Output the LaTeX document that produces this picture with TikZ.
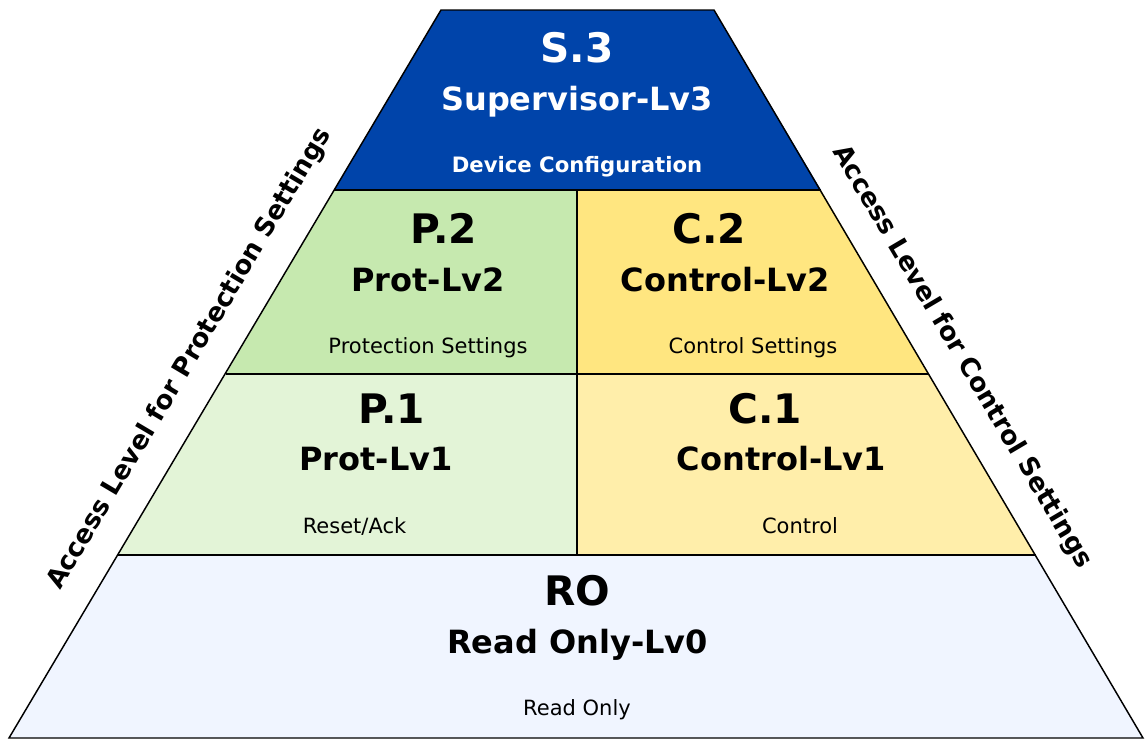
\documentclass[tikz,border=0pt]{standalone}
\usepackage{fontspec}
\setmainfont{DejaVu Sans}
\definecolor{supblue}{HTML}{0044AA}
\definecolor{protdark}{HTML}{C6E9AF}
\definecolor{protlight}{HTML}{E3F4D7}
\definecolor{ctrldark}{HTML}{FFE680}
\definecolor{ctrllight}{HTML}{FFEEAA}
\definecolor{robg}{HTML}{F0F5FF}
\begin{document}
\begin{tikzpicture}[x=0.75pt,y=-0.75pt,
  edge/.style={draw=black,line width=1.1pt,line join=miter},
  sep/.style={draw=black,line width=1.5pt},
  code/.style={anchor=base,inner sep=0pt,font=\bfseries\fontsize{30.5}{32}\selectfont},
  lvl/.style={anchor=base,inner sep=0pt,font=\bfseries\fontsize{24}{26}\selectfont},
  desc/.style={anchor=base,inner sep=0pt,font=\fontsize{15.75}{18}\selectfont},
  side/.style={inner sep=0pt,font=\bfseries\fontsize{19.5}{22}\selectfont}]
\useasboundingbox (0,0) rectangle (1145,740);
% corners
\coordinate (TL) at (441,10);
\coordinate (TR) at (714,10);
\coordinate (L1) at (334,190);
\coordinate (R1) at (821,190);
\coordinate (M1) at (577,190);
\coordinate (L2) at (226,374);
\coordinate (R2) at (929,374);
\coordinate (M2) at (577,374);
\coordinate (L3) at (118,555);
\coordinate (R3) at (1036,555);
\coordinate (M3) at (577,555);
\coordinate (BL) at (9,738);
\coordinate (BR) at (1143,738);
% fills
\fill[supblue] (TL) -- (TR) -- (R1) -- (L1) -- cycle;
\fill[protdark] (L1) -- (M1) -- (M2) -- (L2) -- cycle;
\fill[ctrldark] (M1) -- (R1) -- (R2) -- (M2) -- cycle;
\fill[protlight] (L2) -- (M2) -- (M3) -- (L3) -- cycle;
\fill[ctrllight] (M2) -- (R2) -- (R3) -- (M3) -- cycle;
\fill[robg] (L3) -- (R3) -- (BR) -- (BL) -- cycle;
% lines
\draw[sep] (L1) -- (R1);
\draw[sep] (L2) -- (R2);
\draw[sep] (L3) -- (R3);
\draw[edge] (M1) -- (M3);
\draw[edge] (TL) -- (TR) -- (BR) -- (BL) -- cycle;
% texts
\node[code,text=white] (s3) at (577,62) {S.3};
\node[lvl,text=white] (s3l) at (577,110) {Supervisor-Lv3};
\node[anchor=base,inner sep=0pt,text=white,font=\bfseries\fontsize{15.9}{18}\selectfont] (s3d) at (577,172) {Device Configuration};
\node[code] (p2) at (444,243) {P.2};
\node[lvl] (p2l) at (428,291) {Prot-Lv2};
\node[desc] (p2d) at (428,353) {Protection Settings};
\node[code] (c2) at (709,243) {C.2};
\node[lvl] (c2l) at (725.5,291) {Control-Lv2};
\node[desc] (c2d) at (753,353) {Control Settings};
\node[code] (p1) at (392,423) {P.1};
\node[lvl] (p1l) at (376,470) {Prot-Lv1};
\node[desc] (p1d) at (354.5,533) {Reset/Ack};
\node[code] (c1) at (765,423) {C.1};
\node[lvl] (c1l) at (781.5,470) {Control-Lv1};
\node[desc] (c1d) at (800,533) {Control};
\node[code] (ro) at (577.5,605) {RO};
\node[lvl] (rol) at (577.5,653) {Read Only-Lv0};
\node[desc] (rod) at (577,715) {Read Only};
% side labels
\node[side,rotate=59.3] (lside) at (190,359) {Access Level for Protection Settings};
\node[side,rotate=-59.4] (rside) at (962,357) {Access Level for Control Settings};
\end{tikzpicture}
\end{document}
